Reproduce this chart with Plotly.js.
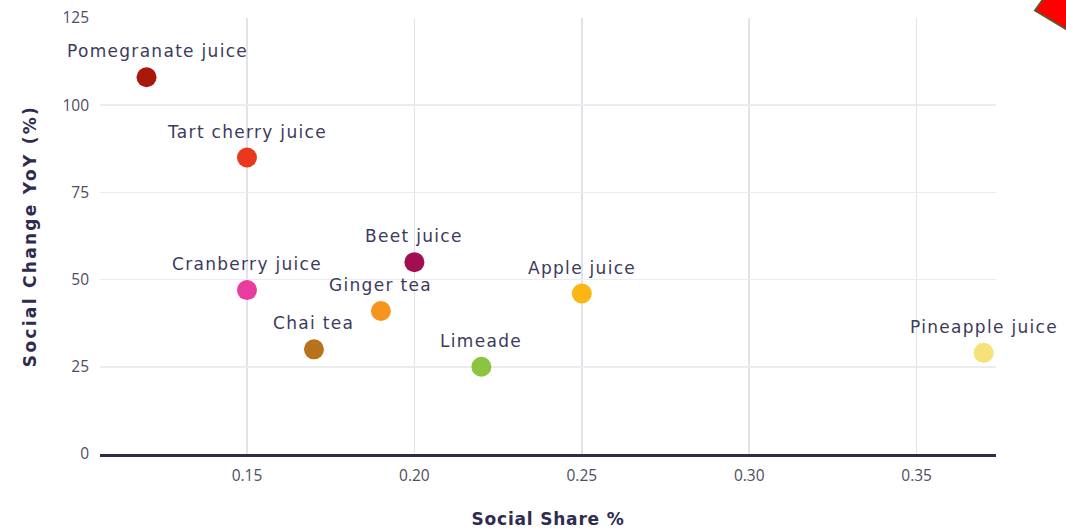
<!DOCTYPE html>
<html>
<head>
<meta charset="utf-8">
<script src="https://cdn.plot.ly/plotly-3.0.1.min.js"></script>
<style>
  html, body { margin: 0; padding: 0; background: #ffffff; }
  #chart { width: 1066px; height: 529px; }
  /* a little extra tracking for the wide, rounded look of the labels */
  .annotation-text { letter-spacing: 1.3px; }
  .xtitle { letter-spacing: 0.8px; }
  .ytitle { letter-spacing: 2.3px; }
</style>
</head>
<body>
<div id="chart"></div>
<script>
// Drinks: share of social conversation vs. year-over-year change
const drinks = [
  "Pomegranate juice", "Tart cherry juice", "Cranberry juice", "Chai tea",
  "Ginger tea", "Beet juice", "Limeade", "Apple juice", "Pineapple juice"
];
const socialShare = [0.12, 0.15, 0.15, 0.17, 0.19, 0.20, 0.22, 0.25, 0.37];
const socialChange = [108, 85, 47, 30, 41, 55, 25, 46, 29];
const dotColors = [
  "#a8180b", "#e9381d", "#e83d9e", "#b8721c", "#f7941e",
  "#a10f52", "#8cc43f", "#fbb515", "#f5e27a"
];
const xTicks = [0.15, 0.20, 0.25, 0.30, 0.35];
const xTickText = ["0.15", "0.20", "0.25", "0.30", "0.35"];
const yTicks = [0, 25, 50, 75, 100, 125];

const labelFont = { family: "'DejaVu Sans', sans-serif", size: 17, color: "#3d3a5c" };
const titleFont = { family: "'DejaVu Sans', sans-serif", size: 17, color: "#2f2c4f", weight: "bold" };
const tickFont = { family: "'Open Sans', sans-serif", size: 15.5, color: "#4f4d62" };

const trace = {
  type: "scatter",
  mode: "markers",
  x: socialShare,
  y: socialChange,
  text: drinks,
  hoverinfo: "text",
  marker: { size: 20, color: dotColors, line: { width: 0 } },
  cliponaxis: false
};

// Names sit just above each dot; the leftmost one is nudged inward
const labels = drinks.map((name, i) => ({
  x: socialShare[i],
  y: socialChange[i],
  text: name,
  showarrow: false,
  xanchor: "center",
  yanchor: "middle",
  yshift: 26,
  xshift: socialShare[i] === Math.min(...socialShare) ? 11 : 0,
  font: labelFont
}));

const layout = {
  width: 1066,
  height: 529,
  margin: { l: 100, r: 70, t: 17.5, b: 75 },
  paper_bgcolor: "#ffffff",
  plot_bgcolor: "#ffffff",
  showlegend: false,
  xaxis: {
    range: [0.1061, 0.3737],
    tickvals: xTicks,
    ticktext: xTickText,
    showgrid: true,
    gridcolor: "#e2e2ea",
    gridwidth: 1.5,
    zeroline: false,
    showline: true,
    linecolor: "#2f2c4a",
    linewidth: 2.5,
    ticks: "",
    ticklabelstandoff: 6,
    tickfont: tickFont,
    title: { text: "Social Share %", font: titleFont, standoff: 29 }
  },
  yaxis: {
    range: [0, 125],
    tickvals: yTicks,
    showgrid: true,
    gridcolor: "#ececf0",
    gridwidth: 1.5,
    zeroline: false,
    showline: false,
    ticks: "",
    ticklabelstandoff: 10,
    tickfont: tickFont,
    title: { text: "Social Change YoY (%)", font: titleFont, standoff: 21 }
  },
  annotations: labels,
  shapes: [{
    type: "path",
    xref: "paper",
    yref: "paper",
    path: "M 1.0435 1.0172 L 1.0547 1.0493 L 1.0915 1.0493 L 1.0915 0.9582 Z",
    fillcolor: "#ff0000",
    line: { color: "#5c5a2c", width: 2 },
    layer: "above"
  }]
};

Plotly.newPlot("chart", [trace], layout, { displayModeBar: false, staticPlot: true });
</script>
</body>
</html>
